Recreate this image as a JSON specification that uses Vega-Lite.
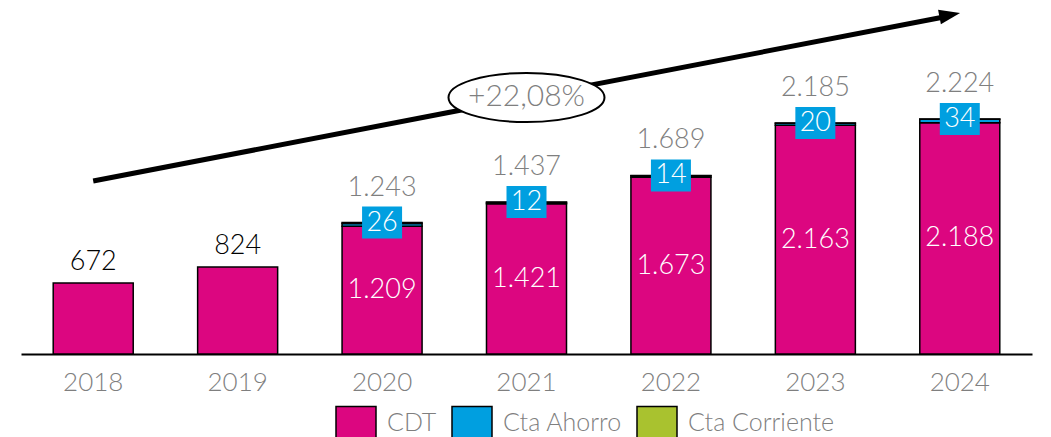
{
  "$schema": "https://vega.github.io/schema/vega-lite/v6.json",
  "width": 1011,
  "height": 354,
  "autosize": {"type": "none"},
  "padding": {"left": 21, "top": 0, "right": 19, "bottom": 83},
  "background": "white",
  "config": {
    "view": {"stroke": null},
    "locale": {"number": {"decimal": ",", "thousands": ".", "grouping": [3], "currency": ["", ""]}},
    "text": {"font": "Lato", "fontWeight": 300}
  },
  "datasets": {
    "bars": [
      {"year": "2018", "series": "CDT", "value": 672},
      {"year": "2019", "series": "CDT", "value": 824},
      {"year": "2020", "series": "CDT", "value": 1209},
      {"year": "2020", "series": "Cta Ahorro", "value": 26},
      {"year": "2020", "series": "Cta Corriente", "value": 8},
      {"year": "2021", "series": "CDT", "value": 1421},
      {"year": "2021", "series": "Cta Ahorro", "value": 12},
      {"year": "2021", "series": "Cta Corriente", "value": 4},
      {"year": "2022", "series": "CDT", "value": 1673},
      {"year": "2022", "series": "Cta Ahorro", "value": 14},
      {"year": "2022", "series": "Cta Corriente", "value": 2},
      {"year": "2023", "series": "CDT", "value": 2163},
      {"year": "2023", "series": "Cta Ahorro", "value": 20},
      {"year": "2023", "series": "Cta Corriente", "value": 2},
      {"year": "2024", "series": "CDT", "value": 2188},
      {"year": "2024", "series": "Cta Ahorro", "value": 34},
      {"year": "2024", "series": "Cta Corriente", "value": 2}
    ],
    "totals": [
      {"year": "2018", "total": 672, "cdt": 672, "ahorro": null},
      {"year": "2019", "total": 824, "cdt": 824, "ahorro": null},
      {"year": "2020", "total": 1243, "cdt": 1209, "ahorro": 26},
      {"year": "2021", "total": 1437, "cdt": 1421, "ahorro": 12},
      {"year": "2022", "total": 1689, "cdt": 1673, "ahorro": 14},
      {"year": "2023", "total": 2185, "cdt": 2163, "ahorro": 20},
      {"year": "2024", "total": 2224, "cdt": 2188, "ahorro": 34}
    ],
    "arrow": [
      {"year": "2018", "year2": "2024", "y": 1637, "y2": 3217}
    ],
    "badge": [
      {"year": "2021", "y": 2427, "label": "+22,08%"}
    ]
  },
  "encoding": {
    "x": {
      "field": "year",
      "type": "nominal",
      "sort": ["2018", "2019", "2020", "2021", "2022", "2023", "2024"],
      "scale": {"paddingInner": 0.446, "paddingOuter": 0.223},
      "axis": {
        "title": null,
        "labelAngle": 0,
        "ticks": false,
        "domain": true,
        "domainColor": "#000000",
        "domainWidth": 2,
        "labelFont": "Lato",
        "labelFontWeight": 300,
        "labelFontSize": 26,
        "labelColor": "#7F7F7F",
        "labelPadding": 15,
        "grid": false
      }
    }
  },
  "layer": [
    {
      "data": {"name": "bars"},
      "mark": {"type": "bar", "stroke": "#000000", "strokeWidth": 1.5},
      "encoding": {
        "y": {"field": "value", "type": "quantitative", "stack": "zero", "scale": {"domain": [0, 3349], "nice": false, "zero": true}, "axis": null},
        "color": {
          "field": "series",
          "type": "nominal",
          "scale": {"domain": ["CDT", "Cta Ahorro", "Cta Corriente"], "range": ["#DC0680", "#009FE0", "#A9C22F"]},
          "legend": {
            "title": null,
            "orient": "none",
            "legendX": 314,
            "legendY": 402,
            "direction": "horizontal",
            "symbolType": "M -1 -0.83 H 1 V 0.83 H -1 Z",
            "symbolSize": 1600,
            "symbolStrokeColor": "#000000",
            "symbolStrokeWidth": 1.5,
            "labelFont": "Lato",
            "labelFontWeight": 300,
            "labelFontSize": 25,
            "labelColor": "#7F7F7F",
            "labelOffset": 10,
            "columnPadding": 12
          }
        },
        "order": {"field": "series", "sort": "ascending"}
      }
    },
    {
      "data": {"name": "totals"},
      "transform": [{"filter": "datum.ahorro != null"}],
      "mark": {"type": "text", "baseline": "middle", "dy": -35, "fontSize": 27, "color": "#7F7F7F"},
      "encoding": {
        "y": {"field": "total", "type": "quantitative", "scale": {"domain": [0, 3349], "nice": false, "zero": true}, "axis": null},
        "text": {"field": "total", "type": "quantitative", "format": ",d"}
      }
    },
    {
      "data": {"name": "totals"},
      "transform": [{"filter": "datum.ahorro == null"}],
      "mark": {"type": "text", "baseline": "middle", "dy": -21, "fontSize": 27, "color": "#000000"},
      "encoding": {
        "y": {"field": "total", "type": "quantitative", "scale": {"domain": [0, 3349], "nice": false, "zero": true}, "axis": null},
        "text": {"field": "total", "type": "quantitative", "format": ",d"}
      }
    },
    {
      "data": {"name": "totals"},
      "transform": [{"filter": "datum.ahorro != null"}],
      "mark": {"type": "point", "filled": true, "opacity": 1, "shape": "M -1 -0.8 H 1 V 0.8 H -1 Z", "size": 1600, "color": "#009FE0"},
      "encoding": {
        "y": {"field": "total", "type": "quantitative", "scale": {"domain": [0, 3349], "nice": false, "zero": true}, "axis": null}
      }
    },
    {
      "data": {"name": "totals"},
      "transform": [{"filter": "datum.ahorro != null"}],
      "mark": {"type": "text", "baseline": "middle", "fontSize": 27, "color": "#FFFFFF"},
      "encoding": {
        "y": {"field": "total", "type": "quantitative", "scale": {"domain": [0, 3349], "nice": false, "zero": true}, "axis": null},
        "text": {"field": "ahorro", "type": "quantitative", "format": ",d"}
      }
    },
    {
      "data": {"name": "totals"},
      "transform": [{"filter": "datum.ahorro != null"}, {"calculate": "datum.cdt / 2", "as": "mid"}],
      "mark": {"type": "text", "baseline": "middle", "fontSize": 27, "color": "#FFFFFF"},
      "encoding": {
        "y": {"field": "mid", "type": "quantitative", "scale": {"domain": [0, 3349], "nice": false, "zero": true}, "axis": null},
        "text": {"field": "cdt", "type": "quantitative", "format": ",d"}
      }
    },
    {
      "data": {"name": "arrow"},
      "mark": {"type": "rule", "strokeWidth": 5, "color": "#000000", "x2Offset": -12, "y2Offset": 2.3},
      "encoding": {
        "x2": {"field": "year2"},
        "y": {"field": "y", "type": "quantitative", "scale": {"domain": [0, 3349], "nice": false, "zero": true}, "axis": null},
        "y2": {"field": "y2"}
      }
    },
    {
      "data": {"name": "arrow"},
      "mark": {"type": "point", "filled": true, "opacity": 1, "color": "#000000", "shape": "M 1 0 L -1 -0.7 L -1 0.7 Z", "size": 441, "angle": -11, "xOffset": -10, "yOffset": 1},
      "encoding": {
        "x": {"field": "year2", "type": "nominal"},
        "y": {"field": "y2", "type": "quantitative", "scale": {"domain": [0, 3349], "nice": false, "zero": true}, "axis": null}
      }
    },
    {
      "data": {"name": "badge"},
      "mark": {"type": "point", "filled": false, "opacity": 1, "fill": "#FFFFFF", "fillOpacity": 1, "stroke": "#000000", "strokeWidth": 2, "shape": "M -1 0 A 1 0.315 0 1 0 1 0 A 1 0.315 0 1 0 -1 0 Z", "size": 24336},
      "encoding": {
        "y": {"field": "y", "type": "quantitative", "scale": {"domain": [0, 3349], "nice": false, "zero": true}, "axis": null}
      }
    },
    {
      "data": {"name": "badge"},
      "mark": {"type": "text", "baseline": "middle", "fontSize": 30, "color": "#7F7F7F"},
      "encoding": {
        "y": {"field": "y", "type": "quantitative", "scale": {"domain": [0, 3349], "nice": false, "zero": true}, "axis": null},
        "text": {"field": "label", "type": "nominal"}
      }
    }
  ]
}
